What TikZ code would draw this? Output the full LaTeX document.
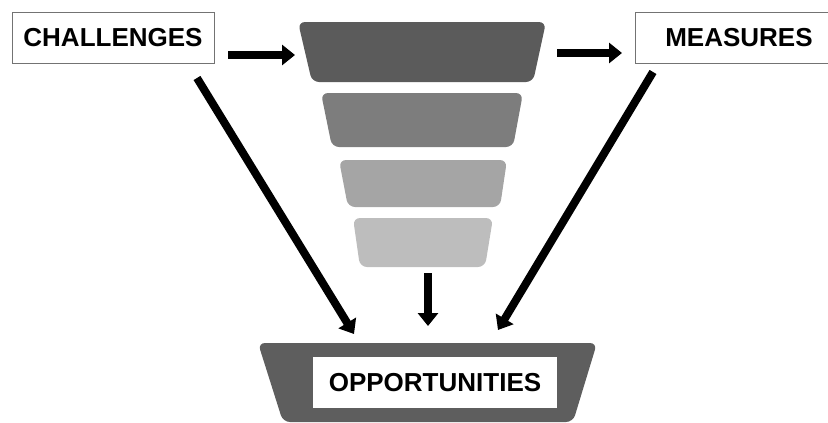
\documentclass[tikz,border=0pt]{standalone}
\usepackage{fontspec}
\setmainfont{Liberation Sans}
\usetikzlibrary{arrows.meta}
\definecolor{lay1}{HTML}{5B5B5B}
\definecolor{lay2}{HTML}{7D7D7D}
\definecolor{lay3}{HTML}{A5A5A5}
\definecolor{lay4}{HTML}{BDBDBD}
\definecolor{oppc}{HTML}{5E5E5E}
\tikzset{
  labelbox/.style={draw=black!55, line width=0.8pt, fill=white, inner sep=0pt,
    font=\fontsize{26}{30}\selectfont\bfseries},
  layer/.style={rounded corners=7pt},
  bigarrow/.style={line width=8pt, -{Triangle[length=13pt,width=20pt]}, black},
}
\begin{document}
\begin{tikzpicture}[x=1pt,y=-1pt]
\useasboundingbox (0,0) rectangle (828,423);
% funnel layers
\fill[lay1,layer] (298,22) -- (546,22) -- (533,82) -- (312,82) -- cycle;
\fill[lay2,layer] (321,93) -- (523,93) -- (513,147) -- (332,147) -- cycle;
\fill[lay3,layer] (339,160) -- (507,160) -- (500,207) -- (348,207) -- cycle;
\fill[lay4,layer] (353,218) -- (493,218) -- (485,267) -- (360,267) -- cycle;
% opportunities base
\fill[oppc,layer] (258,343) -- (597,343) -- (573,422) -- (283,422) -- cycle;
% label boxes
\node[labelbox, minimum width=202pt, minimum height=51pt] (chal) at (113,37.5) {CHALLENGES};
\node[labelbox, minimum width=208pt, minimum height=51pt] (meas) at (739,37.5) {MEASURES};
\node[labelbox, draw=none, minimum width=244pt, minimum height=51pt] (opp) at (435,382.5) {OPPORTUNITIES};
% connector coordinates
\coordinate (c1s) at (228,55);
\coordinate (f1w) at (295,55);
\coordinate (f1e) at (557,53);
\coordinate (m1w) at (622,53);
\coordinate (cd) at (197,78);
\coordinate (ot1) at (354,334);
\coordinate (md) at (653,72);
\coordinate (ot3) at (498,330);
\coordinate (f4s) at (428,273);
\coordinate (ot2) at (428,326);
% arrows
\draw[bigarrow] (c1s) -- (f1w);
\draw[bigarrow] (f1e) -- (m1w);
\draw[bigarrow] (cd) -- (ot1);
\draw[bigarrow] (md) -- (ot3);
\draw[bigarrow] (f4s) -- (ot2);
\end{tikzpicture}
\end{document}
